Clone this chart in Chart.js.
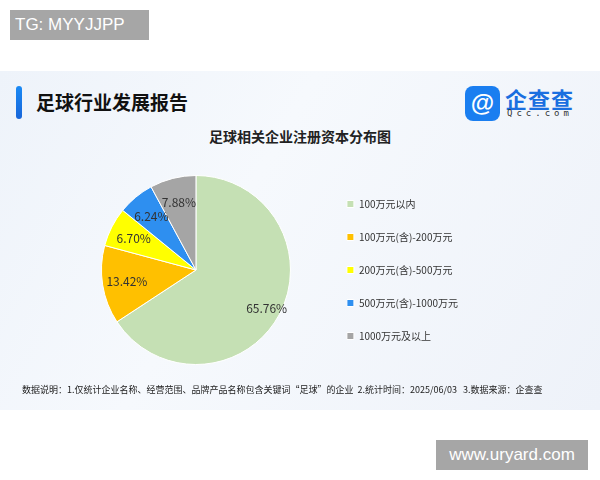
<!DOCTYPE html>
<html><head><meta charset="utf-8">
<script src="https://cdn.jsdelivr.net/npm/chart.js@4/dist/chart.umd.min.js"></script>
<style>
body{margin:0;width:600px;height:480px;background:#fff;position:relative;font-family:"Noto Sans CJK SC",sans-serif;overflow:hidden}
#tg{position:absolute;left:10px;top:10px;width:139px;height:30px;background:#a6a6a6;color:#fff;font:17px "Liberation Sans",sans-serif;line-height:30px;padding-left:5px;box-sizing:border-box}
#panel{position:absolute;left:0;top:71px;width:600px;height:339px;background:linear-gradient(120deg,#eef3fa,#f6f9fd 40%,#eef2f9)}
#bar{position:absolute;left:16px;top:86px;width:6px;height:33px;border-radius:3px;background:linear-gradient(#1a8af5,#1765d9)}
#h1{position:absolute;left:36px;top:86px;font-size:19px;font-weight:bold;color:#111;line-height:32px}
#h2{position:absolute;left:0;width:600px;text-align:center;top:126px;font-size:14px;font-weight:bold;color:#222}
#logo{position:absolute;left:465px;top:86px;width:35px;height:35px;border-radius:8px;background:#1a7ef0;color:#fff;font:bold 24px sans-serif;text-align:center;line-height:34px}
#logot{position:absolute;left:505px;top:82px;font-size:22px;color:#1a6fe0;font-weight:bold;letter-spacing:1px}
#logos{position:absolute;left:507px;top:108px;font:9px "DejaVu Sans Mono";color:#333;letter-spacing:4px}
#note{position:absolute;left:22px;top:383px;font-size:9px;color:#222}
#url{position:absolute;left:436px;top:440px;width:152px;height:30px;background:#a6a6a6;color:#fff;font:17px "Liberation Sans",sans-serif;line-height:30px;text-align:center}
#wrap{position:absolute;left:0;top:150px;width:468px;height:246px}
</style></head><body>
<div id="tg">TG: MYYJJPP</div>
<div id="panel"></div>
<div id="bar"></div>
<div id="h1">足球行业发展报告</div>
<div id="logo">@</div><div id="logot">企查查</div><div id="logos">Qcc.com</div>
<div id="h2">足球相关企业注册资本分布图</div>
<div id="wrap"><canvas id="c"></canvas></div>
<div id="note">数据说明：1.仅统计企业名称、经营范围、品牌产品名称包含关键词“足球”的企业&nbsp;&nbsp;2.统计时间：2025/06/03&nbsp;&nbsp;&nbsp;3.数据来源：企查查</div>
<div id="url">www.uryard.com</div>
<script>
const categories = ["100万元以内","100万元(含)-200万元","200万元(含)-500万元","500万元(含)-1000万元","1000万元及以上"];
const shares = [65.76, 13.42, 6.70, 6.24, 7.88];
const colors = ["#c5e0b4","#ffc000","#ffff00","#2e8ff0","#a5a5a5"];

const sliceLabels = {
  id: "sliceLabels",
  afterDatasetsDraw(chart) {
    const ctx = chart.ctx;
    const meta = chart.getDatasetMeta(0);
    ctx.save();
    ctx.font = "12px 'Noto Sans CJK SC'";
    ctx.fillStyle = "#333";
    ctx.textAlign = "center";
    ctx.textBaseline = "middle";
    meta.data.forEach((arc, i) => {
      const a = (arc.startAngle + arc.endAngle) / 2;
      const r = arc.outerRadius * (i === 0 ? 0.85 : 0.74);
      ctx.fillText(shares[i].toFixed(2) + "%", arc.x + Math.cos(a) * r, arc.y + Math.sin(a) * r);
    });
    ctx.restore();
  }
};

new Chart(document.getElementById("c"), {
  type: "pie",
  data: {
    labels: categories,
    datasets: [{ data: shares, backgroundColor: colors, borderColor: "#fff", borderWidth: 1 }]
  },
  options: {
    responsive: true,
    maintainAspectRatio: false,
    animation: false,
    layout: { padding: { left: 68, top: 25, bottom: 31 } },
    plugins: {
      tooltip: { enabled: false },
      legend: {
        position: "right",
        align: "center",
        labels: { boxWidth: 7, boxHeight: 7, padding: 23, color: "#333", font: { size: 10, family: "Noto Sans CJK SC" } }
      }
    }
  },
  plugins: [sliceLabels]
});
</script>
</body></html>
